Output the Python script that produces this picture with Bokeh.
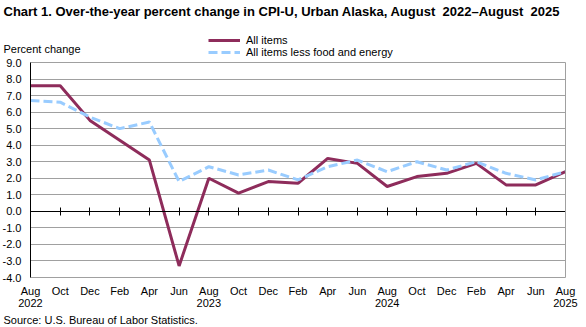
from bokeh.plotting import figure
from bokeh.models import (Range1d, FixedTicker, LinearAxis, Label, Legend, LegendItem, Grid,
                          CustomJSTickFormatter, NumeralTickFormatter)
from bokeh.embed import file_html
from bokeh.resources import INLINE

# ---- data ----
months = ["Aug\n2022", "Oct", "Dec", "Feb", "Apr", "Jun", "Aug\n2023", "Oct", "Dec", "Feb",
          "Apr", "Jun", "Aug\n2024", "Oct", "Dec", "Feb", "Apr", "Jun", "Aug\n2025"]
all_items = [7.6, 7.6, 5.5, 4.3, 3.1, -3.3, 2.0, 1.1, 1.8, 1.7,
             3.2, 2.9, 1.5, 2.1, 2.3, 2.9, 1.6, 1.6, 2.4]
core = [6.7, 6.6, 5.7, 5.0, 5.4, 1.8, 2.7, 2.2, 2.5, 1.9,
        2.7, 3.1, 2.4, 3.0, 2.5, 3.0, 2.3, 1.9, 2.4]
y_ticks = list(range(-4, 10))
series_names = ["All items", "All items less food and energy"]
title_text = "Chart 1. Over-the-year percent change in CPI-U, Urban Alaska, August\u00a0 2022\u2013August\u00a0 2025"
source_text = "Source: U.S. Bureau of Labor Statistics."
y_title = "Percent change"

FONT = "Liberation Sans"
xs = list(range(len(months)))

# ---- layout (pixels) ----
W, H = 586, 327
PL, PR, PT, PB = 30, 565, 62, 277   # plot area edges in page pixels

x0, x1 = xs[0], xs[-1]
y0, y1 = min(y_ticks), max(y_ticks)
sx = (x1 - x0) / (PR - PL)
sy = (y1 - y0) / (PB - PT)
x_range = Range1d(x0 - PL * sx, x1 + (W - PR) * sx)
y_range = Range1d(y0 - (H - PB) * sy, y1 + PT * sy)

p = figure(width=W, height=H, output_backend="svg", toolbar_location=None,
           x_range=x_range, y_range=y_range,
           x_axis_location=None, y_axis_location=None,
           min_border=0, min_border_left=0, min_border_right=0,
           min_border_top=0, min_border_bottom=0,
           background_fill_color="white", border_fill_color="white")
p.outline_line_color = None
p.xgrid.visible = False
p.ygrid.visible = False

# horizontal grid limited to the plot area
grid = Grid(dimension=1, ticker=FixedTicker(ticks=y_ticks),
            grid_line_color="#a0a0a0", grid_line_width=1)
if "cross_bounds" in Grid.properties():
    grid.cross_bounds = (x0, x1)
    p.add_layout(grid)
else:
    p.segment(x0=[x0] * len(y_ticks), x1=[x1] * len(y_ticks), y0=y_ticks, y1=y_ticks,
              line_color="#a0a0a0", line_width=1)

# y axis at the left edge of the plot area
yaxis = LinearAxis(fixed_location=x0, bounds=(y0, y1), ticker=FixedTicker(ticks=y_ticks),
                   formatter=NumeralTickFormatter(format="0.0"),
                   major_tick_line_color=None, minor_tick_line_color=None,
                   axis_line_color="black", axis_line_width=1,
                   major_label_text_font=FONT, major_label_text_font_size="11px",
                   major_label_text_color="black", major_label_standoff=3)
p.add_layout(yaxis, "left")

# right border
raxis = LinearAxis(fixed_location=x1, bounds=(y0, y1), ticker=FixedTicker(ticks=[]),
                   major_tick_line_color=None, minor_tick_line_color=None,
                   axis_line_color="#a0a0a0", axis_line_width=1,
                   formatter=CustomJSTickFormatter(code="return ''"))
p.add_layout(raxis, "right")

# x labels under the plot area
xaxis = LinearAxis(fixed_location=y0, ticker=FixedTicker(ticks=xs),
                   major_label_overrides={i: m for i, m in enumerate(months)},
                   axis_line_color=None, major_tick_line_color=None, minor_tick_line_color=None,
                   major_label_text_font=FONT, major_label_text_font_size="11px",
                   major_label_text_color="black", major_label_standoff=1,
                   major_label_text_line_height=1.0)
p.add_layout(xaxis, "below")

# zero axis with crossing ticks
zero_axis = LinearAxis(fixed_location=0, bounds=(x0, x1), ticker=FixedTicker(ticks=xs),
                       major_tick_in=4, major_tick_out=4,
                       minor_tick_line_color=None,
                       formatter=CustomJSTickFormatter(code="return ''"),
                       axis_line_color="black", major_tick_line_color="black")
p.add_layout(zero_axis, "below")

r1 = p.line(xs, all_items, line_color="#8e2c5b", line_width=3)
r2 = p.line(xs, core, line_color="#99ccff", line_width=3, line_dash="9 4")

legend = Legend(items=[LegendItem(label=series_names[0], renderers=[r1]),
                       LegendItem(label=series_names[1], renderers=[r2])],
                location=(208, H - 58), orientation="vertical",
                background_fill_alpha=0, border_line_color=None,
                glyph_width=32, glyph_height=12, label_height=12, spacing=0,
                padding=0, margin=0, label_standoff=6,
                label_text_font=FONT, label_text_font_size="11px",
                label_text_color="black")
p.add_layout(legend, "center")

p.add_layout(Label(x=3, y=H - 11, x_units="screen", y_units="screen", text=title_text,
                   text_font=FONT, text_font_size="13px", text_font_style="bold",
                   text_color="black", text_baseline="middle"))
p.add_layout(Label(x=3, y=H - 48, x_units="screen", y_units="screen", text=y_title,
                   text_font=FONT, text_font_size="11px", text_color="black",
                   text_baseline="middle"))
p.add_layout(Label(x=3, y=H - 319, x_units="screen", y_units="screen", text=source_text,
                   text_font=FONT, text_font_size="11px", text_color="black",
                   text_baseline="middle"))

open("out.html", "w").write(file_html(p, INLINE))
